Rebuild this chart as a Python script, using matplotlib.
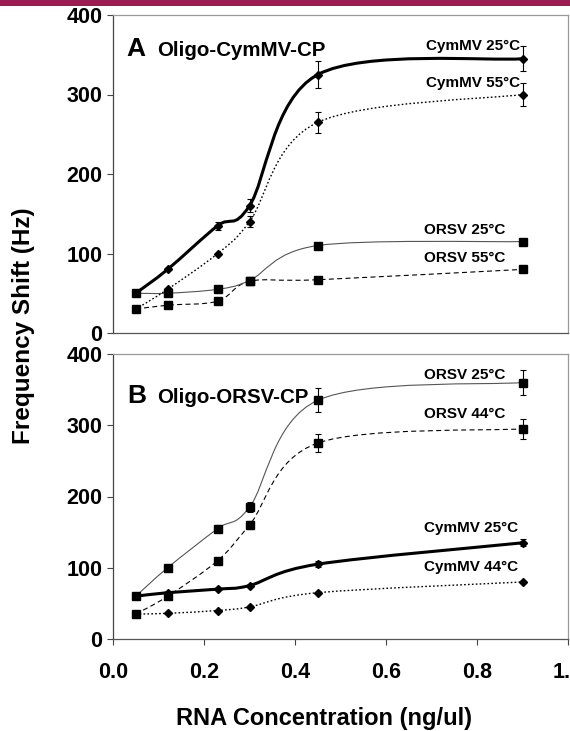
import numpy as np
import matplotlib
matplotlib.use('Agg')
import matplotlib.pyplot as plt
from matplotlib.path import Path
from matplotlib.patches import PathPatch, Rectangle

plt.rcParams['font.family'] = ['Liberation Sans', 'DejaVu Sans']

# RNA concentration (ng/ul), same for every series
conc = [0.05, 0.12, 0.23, 0.30, 0.45, 0.90]

# panel A: Oligo-CymMV-CP
a_cym25 = [50, 80, 135, 160, 325, 345]
a_cym25_err = [0, 0, 5, 8, 17, 16]
a_cym55 = [30, 55, 100, 140, 265, 300]
a_cym55_err = [0, 0, 0, 7, 13, 14]
a_orsv25 = [50, 50, 55, 66, 110, 115]
a_orsv55 = [30, 35, 40, 65, 67, 80]

# panel B: Oligo-ORSV-CP
b_orsv25 = [60, 100, 155, 185, 335, 360]
b_orsv25_err = [0, 0, 5, 7, 17, 18]
b_orsv44 = [35, 60, 110, 160, 275, 295]
b_orsv44_err = [0, 0, 0, 6, 13, 14]
b_cym25 = [60, 65, 70, 75, 105, 135]
b_cym25_err = [0, 0, 0, 0, 4, 5]
b_cym44 = [35, 36, 40, 45, 65, 80]

yticks = [0, 100, 200, 300, 400]
xticks = [0.0, 0.2, 0.4, 0.6, 0.8, 1.0]


def smooth_path(x, y):
    '''smoothed connector like a spreadsheet "smooth line" (catmull-rom bezier)'''
    p = np.column_stack([x, y]).astype(float)
    p = np.vstack([p[0], p, p[-1]])  # repeat the end points
    verts = [tuple(p[1])]
    codes = [Path.MOVETO]
    for k in range(1, len(p) - 2):
        c1 = p[k] + (p[k + 1] - p[k - 1]) / 6
        c2 = p[k + 1] - (p[k + 2] - p[k]) / 6
        verts += [tuple(c1), tuple(c2), tuple(p[k + 1])]
        codes += [Path.CURVE4] * 3
    return Path(verts, codes)


def series(ax, y, err, lw, ls, color, marker, ms):
    ax.add_patch(PathPatch(smooth_path(conc, y), fill=False, lw=lw,
                           ls=ls, edgecolor=color, zorder=2))
    if err is not None:
        ax.errorbar(conc, y, yerr=err, fmt='none', ecolor='black',
                    elinewidth=0.8, capsize=2.5, capthick=0.8, zorder=3)
    ax.plot(conc, y, ls='none', marker=marker, ms=ms, color='black',
            zorder=4)


def style(ax, show_x):
    ax.set_xlim(0, 1.0)
    ax.set_ylim(0, 400)
    ax.set_yticks(yticks)
    ax.set_yticklabels([str(v) for v in yticks], fontsize=15.5,
                       fontweight='bold')
    ax.tick_params(axis='y', direction='out', length=4.3, width=0.8,
                   pad=3.5, color='#444444')
    if show_x:
        ax.set_xticks(xticks)
        ax.set_xticklabels(['%.1f' % v for v in xticks], fontsize=15.5,
                           fontweight='bold')
        ax.tick_params(axis='x', direction='out', length=4.3, width=0.8,
                       pad=12, color='#444444')
    else:
        ax.set_xticks([])
    ax.spines['left'].set_color('#444444')
    ax.spines['bottom'].set_color('#555555')
    ax.spines['top'].set_color('#999999')
    ax.spines['right'].set_color('#999999')
    for s in ax.spines.values():
        s.set_linewidth(0.9)


W, H = 570, 731
fig = plt.figure(figsize=(W / 100, H / 100), dpi=100)
fig.patches.append(Rectangle((0, 1 - 6 / H), 1, 6 / H, transform=fig.transFigure,
                             facecolor='#9c1c52', edgecolor='none'))

axA = fig.add_axes([113 / W, 1 - 333 / H, 455 / W, 318 / H])
axB = fig.add_axes([113 / W, 1 - 639 / H, 455 / W, 285 / H])

dot = (0, (1.2, 1.6))
dash = (0, (4.5, 3))

series(axA, a_orsv55, None, 0.8, dash, 'black', 's', 5.8)
series(axA, a_orsv25, None, 0.8, '-', '#555555', 's', 5.8)
series(axA, a_cym55, a_cym55_err, 1.0, dot, 'black', 'D', 4.2)
series(axA, a_cym25, a_cym25_err, 2.2, '-', 'black', 'D', 4.2)
style(axA, False)

series(axB, b_cym44, None, 1.0, dot, 'black', 'D', 4.2)
series(axB, b_cym25, b_cym25_err, 2.2, '-', 'black', 'D', 4.2)
series(axB, b_orsv44, b_orsv44_err, 0.8, dash, 'black', 's', 5.8)
series(axB, b_orsv25, b_orsv25_err, 0.8, '-', '#555555', 's', 5.8)
style(axB, True)

# panel titles
axA.text(0.030, 348, 'A', fontsize=19, fontweight='bold', va='baseline')
axA.text(0.096, 348, 'Oligo-CymMV-CP', fontsize=14.8, fontweight='bold',
         va='baseline')
axB.text(0.032, 331, 'B', fontsize=19, fontweight='bold', va='baseline')
axB.text(0.096, 331, 'Oligo-ORSV-CP', fontsize=14.8, fontweight='bold',
         va='baseline')

# series labels
lab = dict(fontsize=11, fontweight='bold', ha='right', va='baseline')
axA.text(0.894, 356, 'CymMV 25°C', **lab)
axA.text(0.894, 309, 'CymMV 55°C', **lab)
axA.text(0.862, 125, 'ORSV 25°C', **lab)
axA.text(0.862, 89, 'ORSV 55°C', **lab)
axB.text(0.862, 365, 'ORSV 25°C', **lab)
axB.text(0.862, 310, 'ORSV 44°C', **lab)
axB.text(0.890, 150, 'CymMV 25°C', **lab)
axB.text(0.890, 95, 'CymMV 44°C', **lab)

fig.text(324 / W, 1 - 725 / H, 'RNA Concentration (ng/ul)', fontsize=17,
         fontweight='bold', ha='center', va='baseline')
fig.text(23.5 / W, 1 - 325.5 / H, 'Frequency Shift (Hz)', fontsize=17.5,
         fontweight='bold', ha='center', va='center', rotation=90)

fig.savefig('out.png', dpi=100)
